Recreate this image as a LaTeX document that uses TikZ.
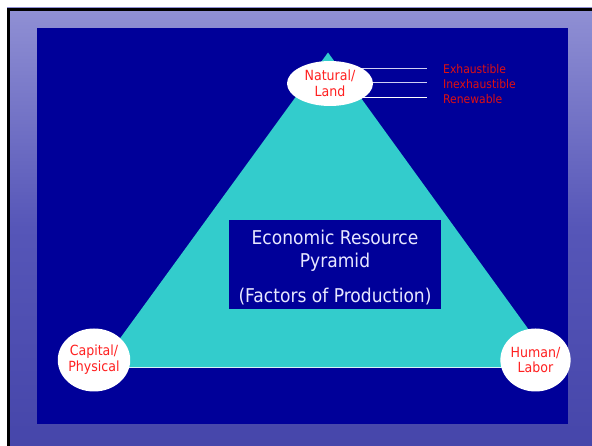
\documentclass[tikz,border=0pt]{standalone}
\usepackage{fontspec}
\setmainfont{DejaVu Sans}[FakeStretch=0.9]
\usetikzlibrary{shapes.geometric}
\definecolor{slidebg}{HTML}{5656B8}
\definecolor{slidebgtop}{HTML}{9090D4}
\definecolor{slidebgbot}{HTML}{4646AA}
\definecolor{panel}{HTML}{000099}
\definecolor{pyr}{HTML}{33CCCC}
\definecolor{redtxt}{HTML}{FF2020}
\definecolor{sidetxt}{HTML}{E01010}
\definecolor{lbltxt}{HTML}{E8E8FF}
\definecolor{lineclr}{HTML}{D0D0F4}
\begin{document}
\begin{tikzpicture}[x=1pt,y=-1pt,
  ell/.style={ellipse,fill=white,draw=none,inner sep=0pt,text=redtxt,align=center,font=\fontsize{14}{15.8}\selectfont},
  sidelbl/.style={anchor=west,inner sep=0pt,text=sidetxt,font=\fontsize{12}{14}\selectfont},
  conn/.style={draw=lineclr,line width=0.8pt}]
\useasboundingbox (0,0) rectangle (592,446);
\fill[white] (0,0) rectangle (592,446);
\shade[top color=slidebgtop,bottom color=slidebgbot,middle color=slidebg] (7,8) rectangle (592,446);
\draw[black,line width=2.4pt] (8.6,446) -- (8.6,9.4) -- (592,9.4);
\fill[panel] (37,28.5) rectangle (568,423.5);
% pyramid
\coordinate (apex) at (328,52.5);
\coordinate (bl) at (99,367.3);
\coordinate (br) at (556,367.3);
\fill[pyr] (apex) -- (br) -- (bl) -- cycle;
\draw[white!80!pyr,line width=0.6pt] (bl) -- (br);
% connectors to sub-labels
\node[sidelbl] (ex) at (443,69) {Exhaustible};
\node[sidelbl] (inex) at (443,84) {Inexhaustible};
\node[sidelbl] (ren) at (443,99) {Renewable};
\coordinate (s1) at (355,68);
\coordinate (s2) at (355,82.5);
\coordinate (s3) at (355,97);
\draw[conn] (s1) -- ([xshift=-16pt]ex.west |- s1);
\draw[conn] (s2) -- ([xshift=-16pt]inex.west |- s2);
\draw[conn,draw=white] (s3) -- ([xshift=-16pt]ren.west |- s3);
% vertex ellipses
\node[ell,minimum width=86pt,minimum height=45pt] (nat) at (330,83.5) {Natural/\\Land};
\node[ell,minimum width=65pt,minimum height=63pt] (cap) at (94,360) {Capital/\\Physical};
\node[ell,minimum width=61pt,minimum height=63pt] (hum) at (535.5,360) {Human/\\Labor};
% centre box
\node[rectangle,fill=panel,minimum width=212pt,minimum height=89pt,inner sep=0pt] (title) at (335,264.5) {};
\node[text=lbltxt,align=center,inner sep=0pt,font=\fontsize{19}{22.3}\selectfont] (titletext) at ([yshift=-3.5pt]title.center)
      {Economic Resource\\Pyramid\\[13.4pt](Factors of Production)};
\end{tikzpicture}
\end{document}
